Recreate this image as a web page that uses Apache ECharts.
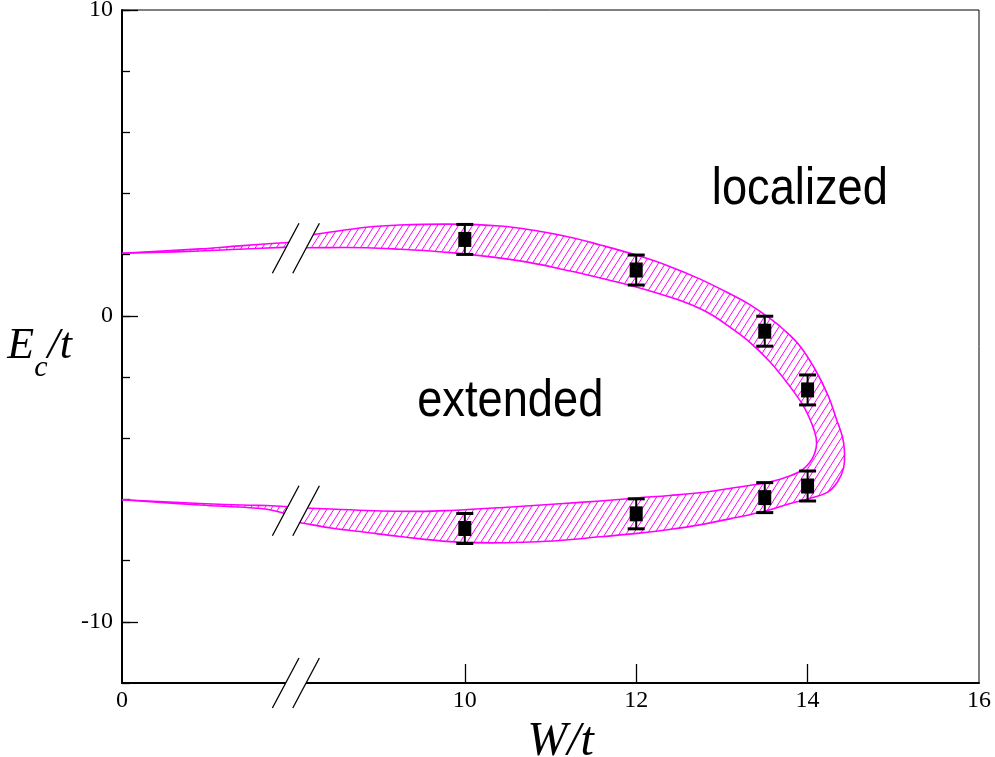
<!DOCTYPE html>
<html><head><meta charset="utf-8">
<script src="https://cdn.jsdelivr.net/npm/echarts@6/dist/echarts.min.js"></script>
<style>html,body{margin:0;padding:0;background:#fff}#c{width:995px;height:757px}</style>
</head><body><div id="c"></div>
<script>
// ---- broken axis: W = 0 is drawn at axis position AXIS_ZERO ----
const AXIS_ZERO = 6;
const xTickLabelValues = [AXIS_ZERO, 10, 12, 14, 16];
const xTickLabelTexts  = ['0', '10', '12', '14', '16'];
const xMajorTicks = [10, 12, 14];
const yTickLabels = [-10, 0, 10];

// ---- data points with error bars ----
const pointsW      = [10, 12, 13.5, 14];
const upperEc      = [2.5, 1.5, -0.5, -2.42];
const lowerEc      = [-6.95, -6.47, -5.94, -5.56];
const errEc        = [0.49, 0.49, 0.49, 0.49];

// ---- hatched mobility-edge band, part right of the break (W) ----
const outerW = [8.07, 8.21, 8.46, 8.85, 9.24, 9.83, 10.41, 10.82, 11.23, 11.58, 12.01, 12.36, 12.74, 13.13, 13.33, 13.53, 13.71, 13.91, 14.09, 14.24, 14.34, 14.41, 14.43, 14.42, 14.35, 14.23, 14.03, 13.79, 13.53, 13.15, 12.74, 12.39, 12.01, 11.58, 11.11, 10.76, 10.29, 9.83, 9.24, 8.86, 8.46, 8.10, 8.02];
const outerE = [2.62, 2.65, 2.75, 2.90, 2.97, 3.00, 2.94, 2.79, 2.57, 2.32, 1.98, 1.65, 1.21, 0.67, 0.36, -0.02, -0.42, -0.98, -1.76, -2.61, -3.40, -3.99, -4.44, -4.97, -5.42, -5.77, -5.96, -6.14, -6.36, -6.60, -6.83, -6.98, -7.11, -7.22, -7.34, -7.39, -7.42, -7.38, -7.21, -7.08, -6.94, -6.77, -6.73];
const innerW = [8.07, 8.15, 8.85, 9.24, 9.83, 10.64, 11.23, 11.58, 12.01, 12.39, 12.63, 12.86, 13.09, 13.33, 13.56, 13.77, 13.95, 14.05, 14.10, 14.10, 14.06, 13.98, 13.88, 13.68, 13.48, 13.09, 12.74, 12.39, 12.01, 11.58, 11.11, 10.41, 9.83, 9.48, 8.85, 8.15, 8.02];
const innerE = [2.23, 2.23, 2.23, 2.18, 2.07, 1.80, 1.47, 1.24, 0.94, 0.62, 0.38, 0.07, -0.36, -0.87, -1.50, -2.22, -2.94, -3.53, -3.99, -4.31, -4.64, -4.93, -5.13, -5.34, -5.47, -5.64, -5.78, -5.87, -5.95, -6.05, -6.14, -6.27, -6.36, -6.39, -6.36, -6.28, -6.27];

// ---- band part left of the break (W from 0) ----
const leftUpW      = [0, 0.91, 1.37, 1.88, 2.03];
const leftUpOuterE = [2.05, 2.19, 2.29, 2.39, 2.42];
const leftUpInnerE = [2.05, 2.12, 2.18, 2.24, 2.25];
const leftLoW      = [0, 0.91, 1.49, 1.69, 1.89, 2.03];
const leftLoInnerE = [-6.01, -6.13, -6.19, -6.20, -6.23, -6.24];
const leftLoOuterE = [-6.01, -6.18, -6.27, -6.32, -6.45, -6.55];

// ---- break marks (axis position) ----
const BREAK_X = 7.91;
const breakYs = [2.21, -6.37, -12];

// ---- region labels ----
const regionTexts = ['localized', 'extended'];
const regionW     = [13.91, 10.53];
const regionE     = [4.12, -2.81];

const MAGENTA = '#ff00ff';

function makeHatch() {
  const w = 7, h = 11;
  const c = document.createElement('canvas');
  c.width = w; c.height = h;
  const g = c.getContext('2d');
  g.strokeStyle = MAGENTA; g.lineWidth = 1;
  for (const k of [-1, 0, 1]) {
    g.beginPath(); g.moveTo(k * w, h); g.lineTo(k * w + w, 0); g.stroke();
  }
  return c;
}
const hatch = { image: makeHatch(), repeat: 'repeat' };

function bandSeries(ow, oe, iw, ie, offset) {
  return {
    type: 'custom', coordinateSystem: 'cartesian2d', clip: false, silent: true, z: 2,
    data: [[ow[0] + offset, oe[0]]],
    renderItem: function (params, api) {
      const outer = ow.map((x, i) => api.coord([x + offset, oe[i]]));
      const inner = iw.map((x, i) => api.coord([x + offset, ie[i]]));
      const poly = outer.concat(inner.slice().reverse());
      return { type: 'group', children: [
        { type: 'polygon', shape: { points: poly, smooth: 0.4 }, style: { fill: hatch, stroke: null } },
        { type: 'polyline', shape: { points: outer, smooth: 0.4 }, style: { stroke: MAGENTA, lineWidth: 1.6, fill: null } },
        { type: 'polyline', shape: { points: inner, smooth: 0.4 }, style: { stroke: MAGENTA, lineWidth: 1.6, fill: null } }
      ] };
    }
  };
}

function errorSeries(ys) {
  return {
    type: 'custom', coordinateSystem: 'cartesian2d', clip: false, silent: true, z: 4,
    data: pointsW.map((x, i) => [x, ys[i], errEc[i]]),
    renderItem: function (params, api) {
      const x = api.value(0), y = api.value(1), e = api.value(2);
      const t = api.coord([x, y + e]), b = api.coord([x, y - e]);
      const hw = 8.5;
      const st = { stroke: '#000', lineWidth: 2 };
      const cap = { stroke: '#000', lineWidth: 3 };
      return { type: 'group', children: [
        { type: 'line', shape: { x1: t[0], y1: t[1], x2: b[0], y2: b[1] }, style: st },
        { type: 'line', shape: { x1: t[0] - hw, y1: t[1], x2: t[0] + hw, y2: t[1] }, style: cap },
        { type: 'line', shape: { x1: b[0] - hw, y1: b[1], x2: b[0] + hw, y2: b[1] }, style: cap }
      ] };
    }
  };
}

const series = [
  bandSeries(leftUpW, leftUpOuterE, leftUpW, leftUpInnerE, AXIS_ZERO),
  bandSeries(leftLoW, leftLoOuterE, leftLoW, leftLoInnerE, AXIS_ZERO),
  bandSeries(outerW, outerE, innerW, innerE, 0),
  errorSeries(upperEc),
  errorSeries(lowerEc),
  { type: 'scatter', symbol: 'rect', symbolSize: [13, 15], itemStyle: { color: '#000', opacity: 1 }, z: 5, silent: true,
    data: pointsW.map((x, i) => [x, upperEc[i]]).concat(pointsW.map((x, i) => [x, lowerEc[i]])) },
  { type: 'custom', coordinateSystem: 'cartesian2d', clip: false, silent: true, z: 6,
    data: breakYs.map(y => [BREAK_X, y]),
    renderItem: function (params, api) {
      const c = api.coord([api.value(0), api.value(1)]);
      const dx = 13.3, dy = 25, gap = 20.4;
      const s1 = [[c[0] - dx, c[1] + dy], [c[0] + dx, c[1] - dy]];
      const s2 = [[c[0] - dx + gap, c[1] + dy], [c[0] + dx + gap, c[1] - dy]];
      return { type: 'group', children: [
        { type: 'polygon', shape: { points: [s1[0], s1[1], s2[1], s2[0]] }, style: { fill: '#fff', stroke: null } },
        { type: 'polyline', shape: { points: s1 }, style: { stroke: '#000', lineWidth: 1.3, fill: null } },
        { type: 'polyline', shape: { points: s2 }, style: { stroke: '#000', lineWidth: 1.3, fill: null } }
      ] };
    }
  },
  { type: 'custom', coordinateSystem: 'cartesian2d', clip: false, silent: true, z: 7,
    data: regionW.map((x, i) => [x, regionE[i]]),
    renderItem: function (params, api) {
      const c = api.coord([api.value(0), api.value(1)]);
      return { type: 'text', x: c[0], y: c[1], scaleX: 0.87,
        style: { text: regionTexts[params.dataIndex], font: '52px "Liberation Sans"', fill: '#000', align: 'center', verticalAlign: 'middle' } };
    }
  }
];

const serif = '"Liberation Serif", "Times New Roman", serif';
const chart = echarts.init(document.getElementById('c'), null, { renderer: 'canvas' });
chart.setOption({
  animation: false,
  backgroundColor: '#fff',
  grid: { left: 122, right: 16, top: 10, bottom: 74, show: true, borderColor: '#000', borderWidth: 1, outerBoundsMode: 'none' },
  xAxis: {
    type: 'value', min: AXIS_ZERO, max: 16, interval: 2,
    axisLine: { show: true, onZero: false, lineStyle: { color: '#000', width: 2 } },
    axisTick: { show: true, inside: true, length: 19, customValues: xMajorTicks, lineStyle: { color: '#000', width: 1.3 } },
    axisLabel: { customValues: xTickLabelValues, formatter: v => xTickLabelTexts[xTickLabelValues.indexOf(v)] ?? '',
      fontFamily: serif, fontSize: 24, color: '#000', margin: 6 },
    splitLine: { show: false },
    name: 'W/t', nameLocation: 'middle', nameGap: 28,
    nameTextStyle: { fontFamily: serif, fontStyle: 'italic', fontSize: 48, color: '#000', padding: [0, 0, 0, 20] }
  },
  yAxis: [{
    type: 'value', min: -12, max: 10, interval: 2, position: 'left',
    axisLine: { show: true, onZero: false, lineStyle: { color: '#000', width: 2 } },
    axisTick: { show: true, inside: true, length: 8, lineStyle: { color: '#000', width: 1.3 } },
    axisLabel: { customValues: yTickLabels, fontFamily: serif, fontSize: 24, color: '#000', margin: 9 },
    splitLine: { show: false },
    name: '{e|E}{c|c}{t|/t}', nameLocation: 'middle', nameRotate: 0, nameGap: 50,
    nameTextStyle: { color: '#000', rich: {
      e: { fontFamily: serif, fontStyle: 'italic', fontSize: 44, lineHeight: 44, verticalAlign: 'top', color: '#000' },
      c: { fontFamily: serif, fontStyle: 'italic', fontSize: 30, lineHeight: 30, verticalAlign: 'top', padding: [29, 0, 10, 0], color: '#000' },
      t: { fontFamily: serif, fontStyle: 'italic', fontSize: 44, lineHeight: 44, verticalAlign: 'top', color: '#000' }
    } }
  }, {
    type: 'value', min: -12, max: 10, interval: 2, position: 'left',
    axisLine: { show: false }, axisLabel: { show: false }, splitLine: { show: false },
    axisTick: { show: true, inside: true, length: 16, customValues: yTickLabels, lineStyle: { color: '#000', width: 1.3 } }
  }],
  series: series
});
</script>
</body></html>
